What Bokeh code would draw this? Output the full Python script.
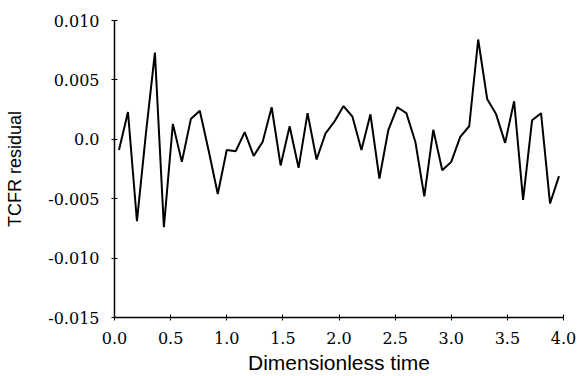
from bokeh.plotting import figure
from bokeh.models import FixedTicker, Range1d
from bokeh.embed import file_html
from bokeh.resources import INLINE

# Data
time = [0.04, 0.12, 0.20, 0.28, 0.36, 0.44, 0.52, 0.60, 0.68, 0.76,
        0.84, 0.92, 1.00, 1.08, 1.16, 1.24, 1.32, 1.40, 1.48, 1.56,
        1.64, 1.72, 1.80, 1.88, 1.96, 2.04, 2.12, 2.20, 2.28, 2.36,
        2.44, 2.52, 2.60, 2.68, 2.76, 2.84, 2.92, 3.00, 3.08, 3.16,
        3.24, 3.32, 3.40, 3.48, 3.56, 3.64, 3.72, 3.80, 3.88, 3.96]
residual = [-0.0009, 0.0023, -0.0069, 0.0005, 0.0073, -0.0074, 0.0013, -0.0019, 0.0017, 0.0024,
            -0.0010, -0.0046, -0.0009, -0.0010, 0.0006, -0.0014, -0.0002, 0.0027, -0.0022, 0.0011,
            -0.0024, 0.0022, -0.0017, 0.0005, 0.0015, 0.0028, 0.0019, -0.0009, 0.0021, -0.0033,
            0.0008, 0.0027, 0.0022, -0.0002, -0.0048, 0.0008, -0.0026, -0.0019, 0.0002, 0.0011,
            0.0084, 0.0034, 0.0021, -0.0003, 0.0032, -0.0051, 0.0016, 0.0022, -0.0054, -0.0031]

x_ticks = [0.0, 0.5, 1.0, 1.5, 2.0, 2.5, 3.0, 3.5, 4.0]
x_tick_labels = ["0.0", "0.5", "1.0", "1.5", "2.0", "2.5", "3.0", "3.5", "4.0"]
y_ticks = [-0.015, -0.010, -0.005, 0.0, 0.005, 0.010]
y_tick_labels = ["-0.015", "-0.010", "-0.005", "0.0", "0.005", "0.010"]
x_title = "Dimensionless time"
y_title = "TCFR residual"

p = figure(width=578, height=376, output_backend="svg", toolbar_location=None,
           x_range=Range1d(x_ticks[0], x_ticks[-1]),
           y_range=Range1d(y_ticks[0], y_ticks[-1]),
           min_border_left=114, min_border_right=15,
           min_border_top=20, min_border_bottom=59)

p.line(time, residual, line_color="black", line_width=2)

p.outline_line_color = None
p.xgrid.visible = False
p.ygrid.visible = False
p.background_fill_color = "white"
p.border_fill_color = "white"

p.xaxis.ticker = FixedTicker(ticks=x_ticks)
p.yaxis.ticker = FixedTicker(ticks=y_ticks)
p.xaxis.major_label_overrides = dict(zip(x_ticks, x_tick_labels))
p.yaxis.major_label_overrides = dict(zip(y_ticks, y_tick_labels))

p.axis.axis_line_color = "black"
p.axis.axis_line_width = 1.5
p.axis.major_tick_line_color = "black"
p.axis.major_tick_line_width = 1
p.axis.major_tick_in = 3
p.axis.major_tick_out = 3
p.axis.minor_tick_line_color = None
p.axis.major_label_text_font = "DejaVu Serif"
p.axis.major_label_text_font_size = "16px"
p.axis.major_label_text_color = "black"
p.axis.axis_label_text_font = "Liberation Sans"
p.axis.axis_label_text_font_style = "normal"
p.axis.axis_label_text_color = "black"

p.xaxis.axis_label = x_title
p.yaxis.axis_label = y_title
p.xaxis.axis_label_text_font_size = "21px"
p.yaxis.axis_label_text_font_size = "18px"
p.xaxis.major_label_standoff = 11
p.yaxis.major_label_standoff = 12
p.xaxis.axis_label_standoff = 4
p.yaxis.axis_label_standoff = 20

open("out.html", "w").write(file_html(p, INLINE))
